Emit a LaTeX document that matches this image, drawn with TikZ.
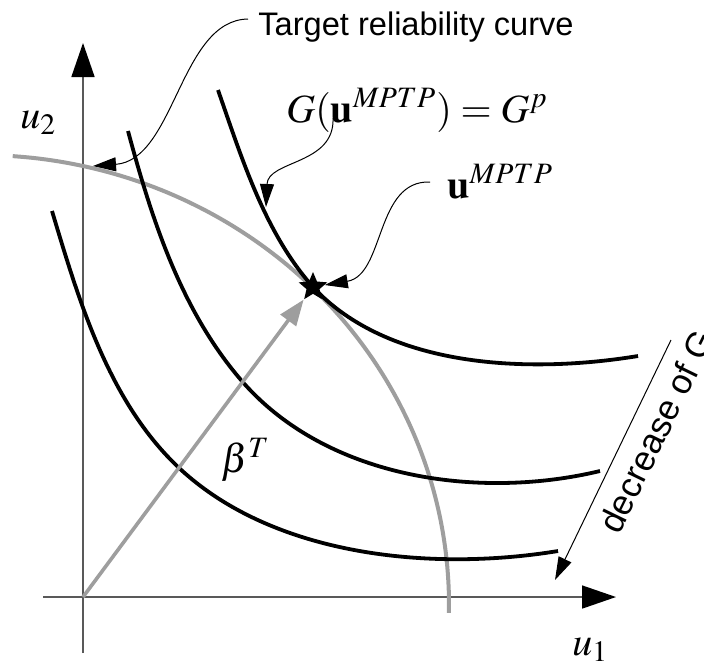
\documentclass[tikz,border=0pt]{standalone}
\usepackage{mathptmx}
\usepackage{fontspec}
\setmainfont{Liberation Serif}
\setsansfont{Liberation Sans}
\usetikzlibrary{arrows.meta,shapes.geometric}
\begin{document}
\begin{tikzpicture}[x=0.5pt,y=-0.5pt,line join=round,
    axis/.style={draw=black!65,line width=0.8pt,-{Triangle[length=17pt,width=11.5pt,color=black]}},
    gcurve/.style={line width=1.9pt},
    target/.style={draw=black!38,line width=2pt},
    beta/.style={draw=black!38,line width=1.8pt,-{Triangle[length=13pt,width=9.5pt]}},
    leader/.style={line width=0.5pt,-{Triangle[length=11.5pt,width=7pt]}},
    sym/.style={font=\fontsize{20}{24}\selectfont,inner sep=0pt},
    lbl/.style={font=\sffamily\fontsize{16.3}{19}\selectfont,inner sep=0pt}]
    \useasboundingbox (0,0) rectangle (704,666);
    \def\rx{469}
    \def\ry{450}
    \coordinate (O) at (83,597);
    \coordinate (Xs) at (43,597);
    \coordinate (X) at (616,597);
    \coordinate (Ys) at (83,653);
    \coordinate (Y) at (83,43);
    % axes
    \draw[axis] (Xs) -- (X);
    \draw[axis] (Ys) -- (Y);
    % target reliability curve
    \draw[target] plot[domain=86:-1,samples=60,smooth] ({-20+\rx*cos(\x)},{605-\ry*sin(\x)});
    % contours of G
    \draw[gcurve] (52,211) .. controls (79,301) and (108,399) .. (176,465)
        .. controls (270,556) and (430,572) .. (558,551);
    \draw[gcurve] (128,131) .. controls (152,220) and (181,310) .. (241,380)
        .. controls (326,479) and (479,500) .. (600,471);
    \draw[gcurve] (218,90) .. controls (242,159) and (265,233) .. (313,287)
        .. controls (388,368) and (528,374) .. (638,356);
    % MPTP
    \node[star,star points=5,star point ratio=2.2,fill=black,inner sep=0pt,minimum size=15pt] (S) at (313,287) {};
    \draw[beta] (O) -- (S);
    % labels
    \node[sym,anchor=base west] (u2) at (20,128) {$u_2$};
    \node[sym,anchor=base west] (u1) at (572,655) {$u_1$};
    \node[sym,anchor=base west] (bt) at (221,472) {$\beta^{T}$};
    \node[lbl,anchor=base west] (trc) at (258,35) {Target reliability curve};
    \node[sym,anchor=base west] (gp) at (286,122) {$G(\mathbf{u}^{MPTP})=G^{p}$};
    \node[sym,anchor=base west] (um) at (447,198) {$\mathbf{u}^{MPTP}$};
    \node[lbl,font=\sffamily\fontsize{17.5}{20}\selectfont,rotate=64,anchor=base west] (dec) at (619,536) {decrease of G};
    % leaders
    \coordinate (tl) at (248,19);
    \coordinate (t0) at (93,166);
    \coordinate (gl) at (333,118);
    \coordinate (g3) at (266,207);
    \coordinate (ul) at (430,182);
    \coordinate (d1) at (671,340);
    \coordinate (d2) at (555,580);
    \draw[leader] (tl) .. controls (180,20) and (175,160) .. (t0);
    \draw[leader] (gl) .. controls (335,165) and (268,160) .. (g3);
    \draw[leader] (ul) .. controls (375,180) and (385,275) .. (S);
    \draw[leader] (d1) -- (d2);
\end{tikzpicture}
\end{document}
